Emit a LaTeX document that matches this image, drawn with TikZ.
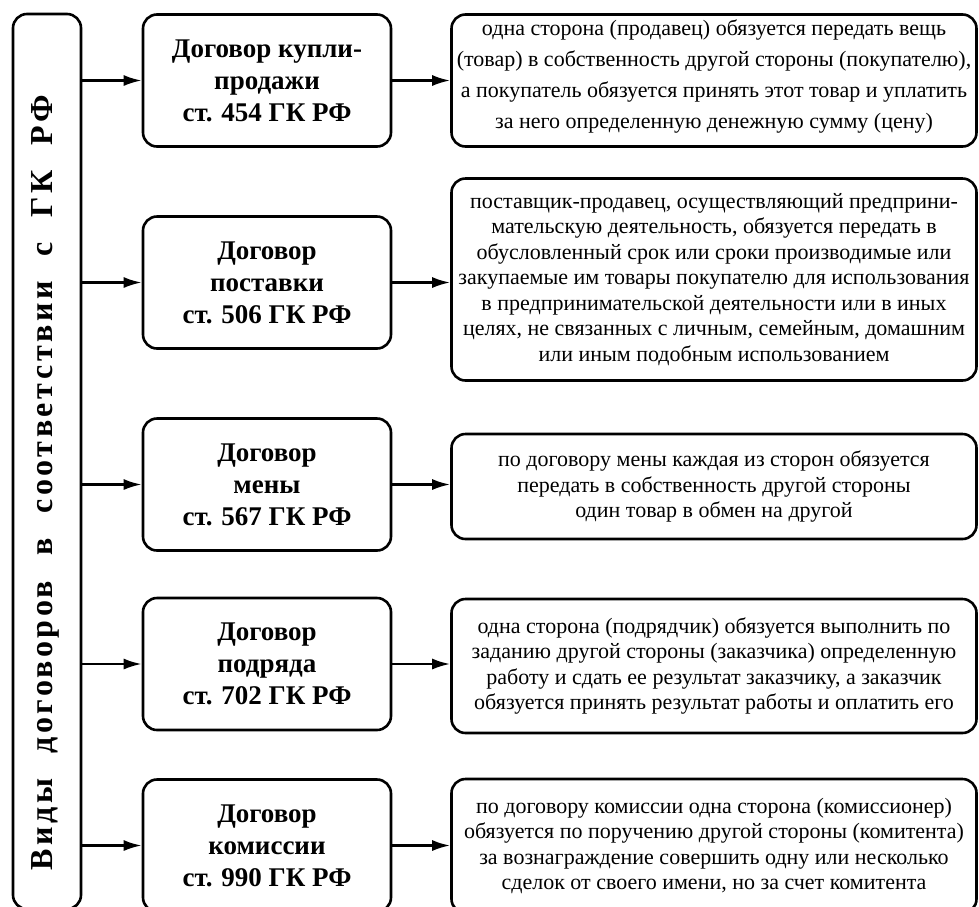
\documentclass[tikz,border=0pt]{standalone}
\usepackage{fontspec}
\setmainfont{Liberation Serif}
\usetikzlibrary{arrows.meta}
\begin{document}
\begin{tikzpicture}[x=1pt,y=-1pt,
  box/.style={draw, line width=2.6pt, rounded corners=14pt, inner sep=0pt, align=center},
  midbox/.style={box, minimum width=248pt, minimum height=132pt, font=\fontsize{27}{32}\selectfont\bfseries},
  defbox/.style={box, minimum width=525pt, font=\fontsize{22}{25.5}\selectfont},
  arr/.style={line width=2.4pt, -{Latex[length=18pt,width=11pt]}}
]
\useasboundingbox (0,0) rectangle (979,906);
\node[box, minimum width=68pt, minimum height=895pt] (L) at (47,461.5) {};
\node[rotate=90, inner sep=0pt, font=\fontsize{32}{34}\selectfont\bfseries\addfontfeature{LetterSpace=11}] (Lt) at (45,482.5) {\makebox[775pt][s]{Виды договоров в соответствии с ГК РФ}};

\node[midbox] (m1) at (267,80.5) {Договор купли-\\продажи\\ст. 454 ГК РФ};
\node[midbox] (m2) at (267,282.5) {Договор\\поставки\\ст. 506 ГК РФ};
\node[midbox] (m3) at (267,484.5) {Договор\\мены\\ст. 567 ГК РФ};
\node[midbox] (m4) at (267,664) {Договор\\подряда\\ст. 702 ГК РФ};
\node[midbox] (m5) at (267,845.5) {Договор\\комиссии\\ст. 990 ГК РФ};

\node[defbox, minimum height=132pt] (d1) at (714,80.5) {};
\node[align=center, inner sep=0pt, font=\fontsize{22}{31}\selectfont] (d1t) at (714,76.5) {одна сторона (продавец) обязуется передать вещь\\(товар) в собственность другой стороны (покупателю),\\а покупатель обязуется принять этот товар и уплатить\\за него определенную денежную сумму (цену)};
\node[defbox, minimum height=202pt] (d2) at (714,279.5) {поставщик-продавец, осуществляющий предприни-\\мательскую деятельность, обязуется передать в\\обусловленный срок или сроки производимые или\\закупаемые им товары покупателю для использования\\в предпринимательской деятельности или в иных\\целях, не связанных с личным, семейным, домашним\\или иным подобным использованием};
\node[defbox, minimum height=105pt] (d3) at (714,486.5) {по договору мены каждая из сторон обязуется\\передать в собственность другой стороны\\один товар в обмен на другой};
\node[defbox, minimum height=134pt] (d4) at (714,666) {одна сторона (подрядчик) обязуется выполнить по\\заданию другой стороны (заказчика) определенную\\работу и сдать ее результат заказчику, а заказчик\\обязуется принять результат работы и оплатить его};
\node[defbox, minimum height=134pt] (d5) at (714,846) {по договору комиссии одна сторона (комиссионер)\\обязуется по поручению другой стороны (комитента)\\за вознаграждение совершить одну или несколько\\сделок от своего имени, но за счет комитента};

\foreach \i in {1,...,5}{
  \draw[arr] (L.east |- m\i.west) -- (m\i.west);
  \draw[arr] (m\i.east) -- (m\i.east -| d\i.west);
}
\end{tikzpicture}
\end{document}
